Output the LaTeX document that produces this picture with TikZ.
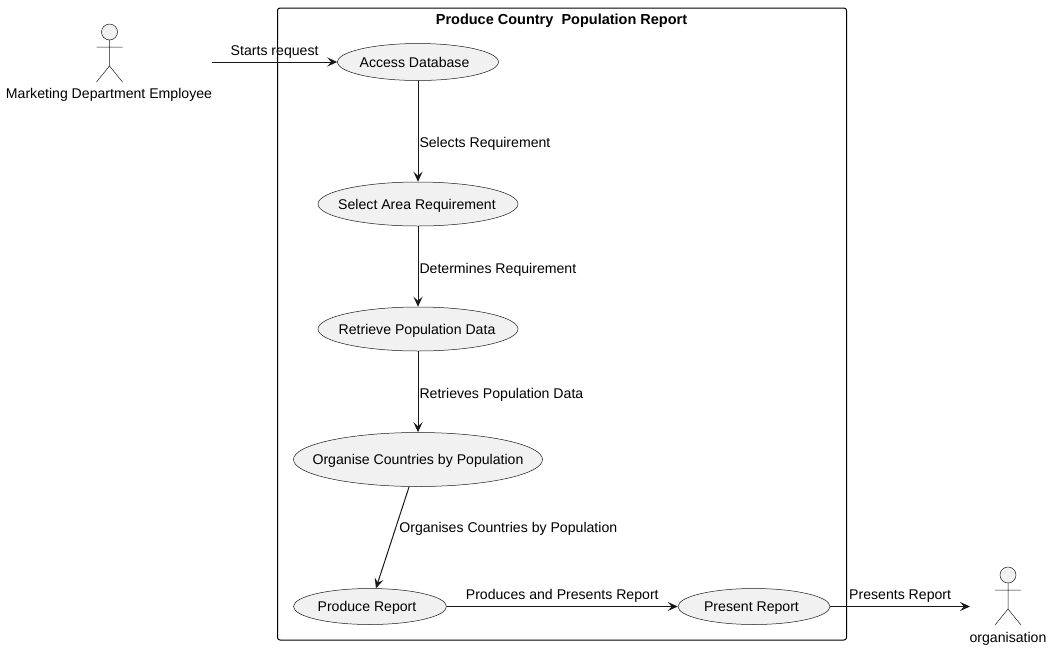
\documentclass[tikz,border=0pt]{standalone}
\usepackage{fontspec}
\setmainfont{Liberation Sans}
\usetikzlibrary{arrows.meta,shapes.geometric}

\definecolor{usefill}{HTML}{F1F1F1}
\definecolor{useline}{HTML}{181818}

\newcommand{\ucname}[2][0pt]{\raisebox{-5pt}[0pt][0pt]{\makebox[0pt]{\hspace*{#1}#2}}}

\tikzset{
	usecase/.style={ellipse,draw=useline,line width=0.5pt,fill=usefill,inner sep=0pt,text=black},
	lbl/.style={inner sep=0pt,text=black,text height=13pt,text depth=3pt},
	actorman/.pic={
		\draw [-,useline,line width=0.5pt,fill=usefill] (0,0) circle (8);
		\draw [-,useline,line width=0.5pt] (0,8) -- (0,34) (-13,15) -- (13,15) (-13,50) -- (0,34) -- (13,50);
	}
}

\begin{document}
\begin{tikzpicture}[x=1pt,y=-1pt,font=\fontsize{14.1}{16}\selectfont,-{Stealth[length=10pt,width=9pt,inset=4pt]},useline,line width=1pt]
	\useasboundingbox (0,0) rectangle (1053,649);

	% system boundary
	\node (frame) [draw=black,line width=1pt,rounded corners=2.5pt,minimum width=569pt,minimum height=632pt,inner sep=0pt] at (562,324) {};
	\node (title) [lbl,font=\fontsize{14.5}{16}\selectfont] at (561.5,19) {\textbf{Produce Country\ \ Population Report}};

	% actors
	\pic at (109.5,32) {actorman};
	\node (emp) [lbl] at (109,93) {Marketing Department Employee};
	\pic at (1008,575) {actorman};
	\node (org) [lbl] at (1008,637) {organisation};
	\coordinate (empout) at (212,62);
	\coordinate (orgin) at (970,606.5);

	% use cases
	\node (access) [usecase,minimum width=161pt,minimum height=37pt] at (418,62) {\ucname[-7pt]{Access Database}};
	\node (select) [usecase,minimum width=200pt,minimum height=44pt] at (418,204) {\ucname[-2pt]{Select Area Requirement}};
	\node (retrieve) [usecase,minimum width=200pt,minimum height=44pt] at (418,329) {\ucname[-2pt]{Retrieve Population Data}};
	\node (organise) [usecase,minimum width=249pt,minimum height=54pt] at (418,459.5) {\ucname{Organise Countries by Population}};
	\node (produce) [usecase,minimum width=153pt,minimum height=36pt] at (370,606.5) {\ucname[-6pt]{Produce Report}};
	\node (present) [usecase,minimum width=152pt,minimum height=36pt] at (754,606.5) {\ucname[-5pt]{Present Report}};

	\draw (empout) to node [lbl,above=3pt] {Starts request} (access);
	\draw (access) to node [lbl,right=1pt,pos=0.616] {Selects Requirement} (select);
	\draw (select) to node [lbl,right=1pt,pos=0.52] {Determines Requirement} (retrieve);
	\draw (retrieve) to node [lbl,right=1pt,pos=0.52] {Retrieves Population Data} (organise);
	\draw (organise) to node [lbl,right=3pt,pos=0.4] {Organises Countries by Population} (produce);
	\draw (produce) to node [lbl,above=3.5pt] {Produces and Presents Report} (present);
	\draw (present) to node [lbl,above=3.5pt] {Presents Report} (orgin);
\end{tikzpicture}
\end{document}
